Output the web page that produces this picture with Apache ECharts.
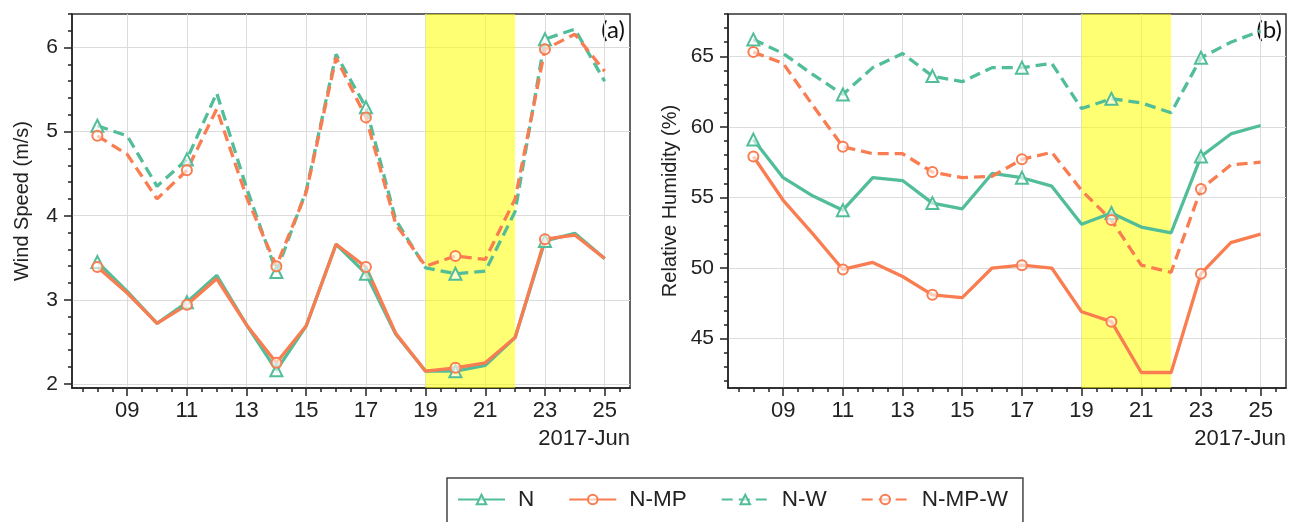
<!DOCTYPE html>
<html>
<head>
<meta charset="utf-8">
<script src="https://cdn.jsdelivr.net/npm/echarts@6/dist/echarts.min.js"></script>
<style>
html,body{margin:0;padding:0;background:#fff;}
#chart{width:1292px;height:522px;}
</style>
</head>
<body>
<div id="chart"></div>
<script>
// ---------- data ----------
const days = [8,9,10,11,12,13,14,15,16,17,18,19,20,21,22,23,24,25];
const xTickValues = [9,11,13,15,17,19,21,23,25];
const xTickLabels = ['09','11','13','15','17','19','21','23','25'];
const xAxisTitle = '2017-Jun';
const seriesNames = ['N','N-MP','N-W','N-MP-W'];

const wsTicks = [2,3,4,5,6];
const wsN    = [3.45,3.10,2.72,2.97,3.29,2.70,2.16,2.69,3.66,3.31,2.59,2.15,2.15,2.22,2.55,3.70,3.79,3.49];
const wsNMP  = [3.39,3.08,2.72,2.94,3.25,2.70,2.25,2.69,3.66,3.39,2.60,2.15,2.19,2.25,2.55,3.72,3.77,3.49];
const wsNW   = [5.07,4.95,4.35,4.67,5.46,4.33,3.33,4.30,5.92,5.29,3.95,3.38,3.31,3.34,4.05,6.10,6.22,5.60];
const wsNMPW = [4.95,4.73,4.20,4.54,5.27,4.22,3.40,4.28,5.88,5.17,3.90,3.40,3.52,3.48,4.20,5.98,6.16,5.72];

const rhTicks = [45,50,55,60,65];
const rhN    = [59.1,56.4,55.1,54.1,56.4,56.2,54.6,54.2,56.7,56.4,55.8,53.1,53.9,52.9,52.5,57.9,59.5,60.1];
const rhNMP  = [57.9,54.8,52.4,49.9,50.4,49.4,48.1,47.9,50.0,50.2,50.0,46.9,46.2,42.6,42.6,49.6,51.8,52.4];
const rhNW   = [66.2,65.2,63.7,62.3,64.2,65.2,63.6,63.2,64.2,64.2,64.5,61.3,62.0,61.7,61.0,64.9,66.0,66.8];
const rhNMPW = [65.3,64.5,61.5,58.6,58.1,58.1,56.8,56.4,56.5,57.7,58.2,55.5,53.4,50.2,49.7,55.6,57.3,57.5];

const highlight = [19, 22];

// ---------- style ----------
const GREEN = '#52BD99';
const ORANGE = '#F97D51';
const AX = '#222';
const FONT = '"Liberation Sans", Arial, sans-serif';
const X_MIN = 7.15, X_MAX = 25.85;

const halfDays = [];
for (let d = 7.5; d <= 25.5; d += 0.5) if (!xTickValues.includes(d)) halfDays.push(d);
const wsMinor = [];
for (let v = 2.2; v <= 6.41; v += 0.2) { const r = Math.round(v*10)/10; if (!wsTicks.includes(r)) wsMinor.push(r); }
const rhMinor = [];
for (let v = 42; v <= 68; v += 1) if (!rhTicks.includes(v)) rhMinor.push(v);

function mainX(grid) {
  return {
    type: 'value', gridIndex: grid, min: X_MIN, max: X_MAX, position: 'bottom',
    axisLine: {show: true, onZero: false, lineStyle: {color: AX, width: 1.5}},
    axisTick: {show: true, customValues: xTickValues, length: 8, lineStyle: {color: AX, width: 1.5}},
    axisLabel: {show: true, customValues: xTickValues, margin: 12, fontSize: 22, color: AX, fontFamily: FONT,
      formatter: v => xTickLabels[xTickValues.indexOf(v)] ?? ''},
    splitLine: {show: true, lineStyle: {color: '#dcdcdc', width: 1}}
  };
}
function minorX(grid) {
  return {
    type: 'value', gridIndex: grid, min: X_MIN, max: X_MAX, position: 'bottom',
    axisLine: {show: false},
    axisTick: {show: true, customValues: halfDays, length: 4, lineStyle: {color: AX, width: 1.5}},
    axisLabel: {show: false}, splitLine: {show: false}
  };
}
function mainY(grid, min, max, ticks, name, gap) {
  return {
    type: 'value', gridIndex: grid, min: min, max: max, position: 'left',
    name: name, nameLocation: 'middle', nameGap: gap,
    nameTextStyle: {fontSize: 20, color: AX, fontFamily: FONT},
    axisLine: {show: true, lineStyle: {color: AX, width: 1.5}},
    axisTick: {show: true, customValues: ticks, length: 8, lineStyle: {color: AX, width: 1.5}},
    axisLabel: {show: true, customValues: ticks, margin: 14, fontSize: 21, color: AX, fontFamily: FONT},
    splitLine: {show: true, lineStyle: {color: '#dcdcdc', width: 1}}
  };
}
function minorY(grid, min, max, ticks) {
  return {
    type: 'value', gridIndex: grid, min: min, max: max, position: 'left',
    axisLine: {show: false},
    axisTick: {show: true, customValues: ticks, length: 4, lineStyle: {color: AX, width: 1.5}},
    axisLabel: {show: false}, splitLine: {show: false}
  };
}

function mkData(vals) {
  return vals.map((v, i) => i % 3 === 0 ? [days[i], v] : {value: [days[i], v], symbol: 'none'});
}
function mkSeries(name, vals, xi, yi) {
  const green = name === 'N' || name === 'N-W';
  const dashed = name.endsWith('-W');
  const col = green ? GREEN : ORANGE;
  return {
    name: name, type: 'line', xAxisIndex: xi, yAxisIndex: yi,
    data: mkData(vals),
    showAllSymbol: true,
    symbol: green ? 'triangle' : 'circle',
    symbolSize: green ? 12 : 10,
    itemStyle: {color: 'rgba(255,255,255,0.6)', borderColor: col, borderWidth: 2},
    lineStyle: {color: col, width: 3.3, type: dashed ? [11, 6] : 'solid'},
    emphasis: {disabled: true},
    animation: false, z: 3
  };
}
function bandSeries(xi, yi) {
  return {
    type: 'line', xAxisIndex: xi, yAxisIndex: yi, data: [], silent: true, z: 1,
    markArea: {silent: true, itemStyle: {color: 'rgba(255,255,0,0.55)'},
      data: [[{xAxis: highlight[0]}, {xAxis: highlight[1]}]]}
  };
}

const panels = [
  [wsN, wsNMP, wsNW, wsNMPW],
  [rhN, rhNMP, rhNW, rhNMPW]
];
const series = [bandSeries(0, 0), bandSeries(2, 2)];
panels.forEach((arrs, p) => {
  arrs.forEach((vals, k) => series.push(mkSeries(seriesNames[k], vals, p*2, p*2)));
});

const option = {
  animation: false,
  backgroundColor: '#fff',
  grid: [
    {left: 72, right: 662, top: 14, bottom: 134, show: true, borderColor: '#333', borderWidth: 1.5, containLabel: false},
    {left: 728, right: 6, top: 14, bottom: 134, show: true, borderColor: '#333', borderWidth: 1.5, containLabel: false}
  ],
  xAxis: [mainX(0), minorX(0), mainX(1), minorX(1)],
  yAxis: [
    mainY(0, 1.95, 6.4, wsTicks, 'Wind Speed (m/s)', 40),
    minorY(0, 1.95, 6.4, wsMinor),
    mainY(1, 41.5, 68, rhTicks, 'Relative Humidity (%)', 48),
    minorY(1, 41.5, 68, rhMinor)
  ],
  legend: {
    data: seriesNames, left: 447, top: 478,
    itemWidth: 47, itemHeight: 12, itemGap: 34,
    padding: [10, 15, 40, 10],
    borderColor: '#444', borderWidth: 1.5,
    textStyle: {fontSize: 22.5, color: AX, fontFamily: FONT, padding: [0, 0, 0, 8]}
  },
  graphic: [
    {type: 'text', right: 1292-630, top: 428, style: {text: xAxisTitle, font: '22px ' + FONT, fill: AX}},
    {type: 'text', right: 6, top: 428, style: {text: xAxisTitle, font: '22px ' + FONT, fill: AX}},
    {type: 'text', right: 1292-625, top: 18, style: {text: '(a)', font: '24px Lato, "Open Sans", sans-serif', fill: '#111'}},
    {type: 'text', right: 10, top: 18, style: {text: '(b)', font: '24px Lato, "Open Sans", sans-serif', fill: '#111'}}
  ],
  series: series
};

const chart = echarts.init(document.getElementById('chart'), null, {renderer: 'canvas'});
chart.setOption(option);
</script>
</body>
</html>
